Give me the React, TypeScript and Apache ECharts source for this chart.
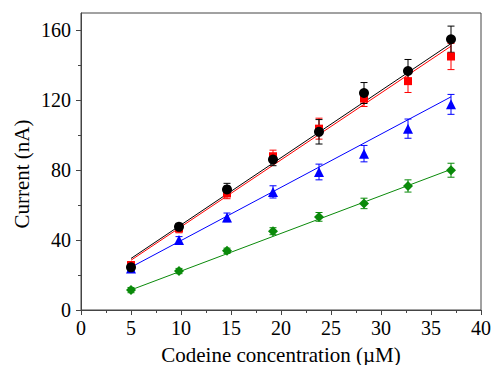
import React, { useEffect, useRef } from "react";
import * as echarts from "echarts";

const concentrations = [5, 9.8, 14.6, 19.2, 23.8, 28.3, 32.7, 37.0];
const blackValues = [24.4, 47.6, 69.0, 86.1, 102.0, 124.2, 136.8, 155.0];
const blackErrors = [2, 2, 3.5, 3.5, 7, 6, 6.6, 7.5];
const redValues = [25.7, 46.7, 66.7, 88.0, 103.8, 121.0, 131.0, 145.1];
const redErrors = [2, 2.5, 3, 3.5, 6, 4.5, 6.5, 7.5];
const blueValues = [23.8, 40.0, 53.0, 67.6, 79.0, 89.5, 103.8, 117.7];
const blueErrors = [1.5, 2, 2.5, 3.5, 4.5, 4.7, 5.5, 5.7];
const greenValues = [11.4, 22.3, 33.9, 45.1, 53.3, 61.0, 71.0, 80.0];
const greenErrors = [1.5, 1.5, 1.5, 2, 2.5, 3, 3.5, 4];

const fitX = [5, 37];
const blackFit = [29.5, 152.5];
const redFit = [28.5, 151.0];
const blueFit = [24.5, 122.0];
const greenFit = [11.5, 80.5];

const yMajorTicks = [0, 40, 80, 120, 160];
const yMinorTicks = [20, 60, 100, 140];

const FONT = "Liberation Serif";
const AXIS_COLOR = "#444";

function pairs(xs: number[], ys: number[]) {
  return xs.map((x, i) => [x, ys[i]]);
}
function triples(xs: number[], ys: number[], es: number[]) {
  return xs.map((x, i) => [x, ys[i], es[i]]);
}

function errorSeries(name: string, color: string, data: number[][]) {
  return {
    name: name + " error",
    type: "custom",
    z: 3,
    renderItem: (params: any, api: any) => {
      const x = api.value(0);
      const y = api.value(1);
      const e = api.value(2);
      const top = api.coord([x, y + e]);
      const bot = api.coord([x, y - e]);
      const hw = 3.5;
      const style = { stroke: color, lineWidth: 1 };
      return {
        type: "group",
        children: [
          { type: "line", shape: { x1: top[0], y1: top[1], x2: bot[0], y2: bot[1] }, style },
          { type: "line", shape: { x1: top[0] - hw, y1: top[1], x2: top[0] + hw, y2: top[1] }, style },
          { type: "line", shape: { x1: bot[0] - hw, y1: bot[1], x2: bot[0] + hw, y2: bot[1] }, style },
        ],
      };
    },
    data,
  };
}

function fitSeries(color: string, ys: number[]) {
  return {
    type: "line",
    data: pairs(fitX, ys),
    symbol: "none",
    lineStyle: { color, width: 1 },
    z: 2,
  };
}

function scatterSeries(color: string, symbol: string, size: number, ys: number[]) {
  return {
    type: "scatter",
    data: pairs(concentrations, ys),
    symbol,
    symbolSize: size,
    itemStyle: { color, opacity: 1 },
    z: 4,
  };
}

const labelRich = { t: { fontFamily: FONT, fontSize: 20, color: "#000" } };

export default function App() {
  const ref = useRef<HTMLDivElement>(null);
  useEffect(() => {
    if (!ref.current) return;
    const chart = echarts.init(ref.current, null, { renderer: "svg" });
    const green = "#0a8a0a";
    chart.setOption({
      animation: false,
      backgroundColor: "#fff",
      textStyle: { fontFamily: FONT, color: "#000" },
      grid: {
        left: 81,
        right: 11,
        top: 13,
        bottom: 55,
        show: true,
        borderColor: AXIS_COLOR,
        borderWidth: 1,
        containLabel: false,
        outerBoundsMode: "none",
      },
      xAxis: {
        type: "value",
        min: 0,
        max: 40,
        interval: 5,
        name: "Codeine concentration (\u00b5M)",
        nameLocation: "middle",
        nameGap: 34,
        nameTextStyle: { fontFamily: FONT, fontSize: 21, color: "#000" },
        axisLine: { show: true, lineStyle: { color: AXIS_COLOR, width: 1 } },
        axisTick: { show: true, inside: false, length: 5, lineStyle: { color: AXIS_COLOR } },
        minorTick: { show: true, splitNumber: 2, length: 3, lineStyle: { color: AXIS_COLOR } },
        axisLabel: {
          fontFamily: FONT,
          fontSize: 20,
          color: "#000",
          margin: 8,
          formatter: (v: number) => "{t|" + v + "}",
          rich: labelRich,
        },
        splitLine: { show: false },
      },
      yAxis: [
        {
          type: "value",
          min: 0,
          max: 170,
          interval: 40,
          axisLine: { show: true, lineStyle: { color: AXIS_COLOR, width: 1 } },
          axisTick: { show: true, length: 5, customValues: yMajorTicks, lineStyle: { color: AXIS_COLOR } },
          axisLabel: {
            fontFamily: FONT,
            fontSize: 20,
            color: "#000",
            margin: 10,
            customValues: yMajorTicks,
            formatter: (v: number) => "{t|" + v + "}",
            rich: labelRich,
          },
          splitLine: { show: false },
        },
        {
          type: "value",
          min: 0,
          max: 170,
          position: "left",
          axisLine: { show: false },
          axisTick: { show: true, length: 3, customValues: yMinorTicks, lineStyle: { color: AXIS_COLOR } },
          axisLabel: { show: false },
          splitLine: { show: false },
        },
      ],
      graphic: [
        {
          type: "text",
          x: 22,
          y: 174,
          rotation: Math.PI / 2,
          style: {
            text: "Current (nA)",
            fontFamily: FONT,
            fontSize: 21,
            fill: "#000",
            textAlign: "center",
            textVerticalAlign: "middle",
          },
        },
      ],
      series: [
        fitSeries(green, greenFit),
        fitSeries("#0000ff", blueFit),
        fitSeries("#ff0000", redFit),
        fitSeries("#000000", blackFit),
        errorSeries("green", green, triples(concentrations, greenValues, greenErrors)),
        errorSeries("blue", "#0000ff", triples(concentrations, blueValues, blueErrors)),
        errorSeries("red", "#ff0000", triples(concentrations, redValues, redErrors)),
        errorSeries("black", "#000000", triples(concentrations, blackValues, blackErrors)),
        scatterSeries(green, "diamond", 10, greenValues),
        scatterSeries("#0000ff", "triangle", 10, blueValues),
        scatterSeries("#ff0000", "rect", 8, redValues),
        scatterSeries("#000000", "circle", 10, blackValues),
      ],
    });
    return () => chart.dispose();
  }, []);
  return (
    <div
      ref={ref}
      style={{ position: "fixed", left: 0, top: 0, width: 492, height: 365 }}
    />
  );
}
